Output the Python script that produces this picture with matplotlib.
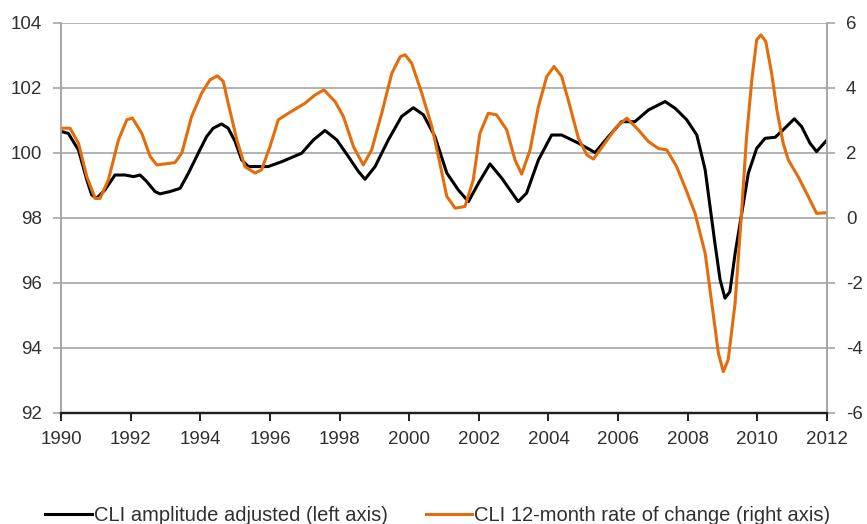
import matplotlib
matplotlib.use("Agg")
import matplotlib.pyplot as plt

# CLI amplitude adjusted (left axis)
cli_years = [1990.0, 1990.21, 1990.5, 1990.74, 1990.88, 1991.02, 1991.26, 1991.55, 1991.84, 1992.08,
             1992.27, 1992.46, 1992.7, 1992.84, 1993.13, 1993.42, 1993.66, 1993.94, 1994.18, 1994.37,
             1994.61, 1994.8, 1995.0, 1995.19, 1995.38, 1995.95, 1996.34, 1996.91, 1997.25, 1997.58,
             1997.92, 1998.25, 1998.54, 1998.73, 1999.02, 1999.4, 1999.78, 2000.12, 2000.41, 2000.74,
             2001.08, 2001.41, 2001.7, 2001.99, 2002.32, 2002.66, 2003.13, 2003.37, 2003.71, 2004.09,
             2004.38, 2004.86, 2005.34, 2005.72, 2006.1, 2006.48, 2006.87, 2007.35, 2007.64, 2007.97,
             2008.26, 2008.5, 2008.64, 2008.78, 2008.93, 2009.07, 2009.21, 2009.36, 2009.55, 2009.74,
             2009.98, 2010.22, 2010.51, 2010.74, 2011.06, 2011.27, 2011.51, 2011.7, 2012.0]
cli_values = [100.66, 100.6, 100.09, 99.17, 98.71, 98.6, 98.86, 99.32, 99.32, 99.27,
              99.32, 99.12, 98.81, 98.74, 98.81, 98.91, 99.38, 99.99, 100.5, 100.76,
              100.89, 100.76, 100.35, 99.78, 99.58, 99.58, 99.73, 99.99, 100.4, 100.69,
              100.4, 99.89, 99.43, 99.19, 99.58, 100.4, 101.12, 101.39, 101.17, 100.5,
              99.38, 98.86, 98.5, 99.07, 99.66, 99.22, 98.5, 98.76, 99.78, 100.55,
              100.55, 100.3, 100.01, 100.5, 100.96, 100.96, 101.32, 101.58, 101.37, 101.02,
              100.55, 99.48, 98.35, 97.22, 96.09, 95.53, 95.73, 96.91, 98.14, 99.38,
              100.14, 100.45, 100.48, 100.71, 101.05, 100.81, 100.3, 100.04, 100.4]

# CLI 12-month rate of change (right axis)
roc_years = [1990.0, 1990.26, 1990.5, 1990.74, 1990.98, 1991.12, 1991.36, 1991.65, 1991.89, 1992.05,
             1992.32, 1992.56, 1992.75, 1993.27, 1993.47, 1993.75, 1994.04, 1994.28, 1994.49, 1994.66,
             1994.8, 1995.05, 1995.28, 1995.57, 1995.76, 1996.0, 1996.24, 1996.53, 1997.01, 1997.29,
             1997.55, 1997.87, 1998.11, 1998.4, 1998.68, 1998.92, 1999.21, 1999.5, 1999.74, 1999.88,
             2000.07, 2000.36, 2000.65, 2000.88, 2001.08, 2001.32, 2001.6, 2001.84, 2002.03, 2002.27,
             2002.51, 2002.8, 2003.04, 2003.23, 2003.47, 2003.71, 2003.95, 2004.16, 2004.38, 2004.62,
             2004.86, 2005.1, 2005.29, 2005.62, 2005.96, 2006.25, 2006.58, 2006.87, 2007.15, 2007.4,
             2007.68, 2007.97, 2008.21, 2008.5, 2008.69, 2008.88, 2009.02, 2009.16, 2009.36, 2009.53,
             2009.69, 2009.84, 2009.98, 2010.1, 2010.24, 2010.41, 2010.56, 2010.74, 2010.89, 2011.17,
             2011.46, 2011.7, 2012.0]
roc_values = [2.76, 2.76, 2.3, 1.27, 0.6, 0.6, 1.17, 2.4, 3.02, 3.07,
              2.6, 1.89, 1.63, 1.7, 2.0, 3.12, 3.84, 4.25, 4.37, 4.2,
              3.53, 2.4, 1.58, 1.38, 1.48, 2.19, 3.02, 3.22, 3.53, 3.78,
              3.94, 3.58, 3.12, 2.19, 1.63, 2.09, 3.22, 4.45, 4.96, 5.02,
              4.76, 3.84, 2.81, 1.68, 0.66, 0.3, 0.35, 1.17, 2.6, 3.22,
              3.17, 2.71, 1.78, 1.35, 2.09, 3.42, 4.35, 4.66, 4.35, 3.42,
              2.45, 1.94, 1.81, 2.3, 2.81, 3.07, 2.71, 2.35, 2.14, 2.09,
              1.58, 0.81, 0.14, -1.09, -2.62, -4.16, -4.73, -4.37, -2.62, -0.06,
              2.5, 4.25, 5.48, 5.63, 5.43, 4.45, 3.32, 2.3, 1.78, 1.27,
              0.66, 0.14, 0.16]

year_ticks = list(range(1990, 2013, 2))
left_ticks = [92, 94, 96, 98, 100, 102, 104]
right_ticks = [-6, -4, -2, 0, 2, 4, 6]

plt.rcParams['font.family'] = ['Liberation Sans', 'DejaVu Sans']

grid_gray = '#a6a6a6'
text_col = '#303030'
orange = '#E46C0A'

fig = plt.figure(figsize=(8.67, 5.24), dpi=100)
ax = fig.add_axes([0.0704, 0.212, 0.8835, 0.7443])
ax2 = ax.twinx()

l1, = ax.plot(cli_years, cli_values, color='black', lw=2.2, solid_joinstyle='round',
              label='CLI amplitude adjusted (left axis)')
l2, = ax2.plot(roc_years, roc_values, color=orange, lw=2.2, solid_joinstyle='round',
               label='CLI 12-month rate of change (right axis)')

ax.set_xlim(1990, 2012)
ax.set_ylim(92, 104)
ax2.set_ylim(-6, 6)
ax.set_xticks(year_ticks)
ax.set_yticks(left_ticks)
ax2.set_yticks(right_ticks)
ax.set_yticklabels([str(v) for v in left_ticks])
ax2.set_yticklabels([str(v) for v in right_ticks])

ax.grid(axis='y', color=grid_gray, lw=1.2)
ax.set_axisbelow(True)

for a in (ax, ax2):
    a.spines['top'].set_visible(False)
    a.spines['left'].set_color(grid_gray)
    a.spines['right'].set_color(grid_gray)
    a.spines['left'].set_linewidth(1.2)
    a.spines['right'].set_linewidth(1.2)
    a.spines['bottom'].set_color('#202020')
    a.spines['bottom'].set_linewidth(1.6)

ax.tick_params(axis='y', length=5.5, width=1.2, color=grid_gray, pad=8, labelsize=13.5, labelcolor=text_col)
ax2.tick_params(axis='y', length=5.5, width=1.2, color=grid_gray, pad=8, labelsize=13.5, labelcolor=text_col)
ax.tick_params(axis='x', length=6, width=1.4, color='#202020', pad=7, labelsize=13.5, labelcolor=text_col)

fig.legend(handles=[l1, l2], loc='center', bbox_to_anchor=(0.505, 0.017), ncol=2, frameon=False,
           fontsize=14.5, handlelength=2.3, handletextpad=0.1, columnspacing=1.9,
           labelcolor=text_col)

fig.savefig('out.png', dpi=100)
